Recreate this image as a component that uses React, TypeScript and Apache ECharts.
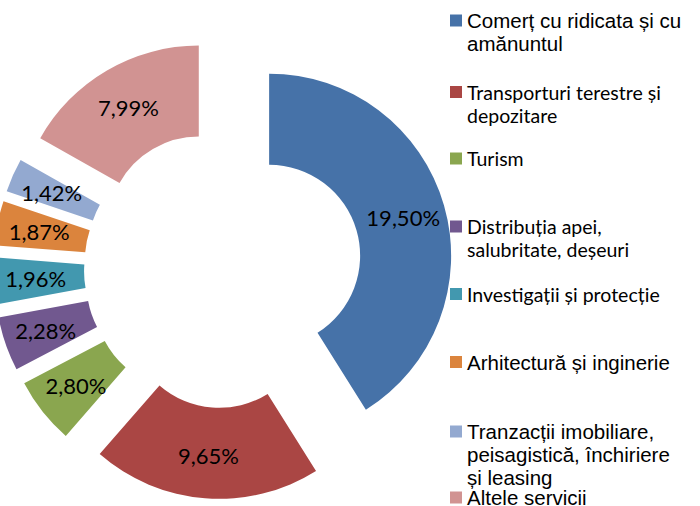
import React, { useEffect, useRef } from "react";
import * as echarts from "echarts";

const categories = [
  "Comerț cu ridicata și cu\namănuntul",
  "Transporturi terestre și\ndepozitare",
  "Turism",
  "Distribuția apei,\nsalubritate, deșeuri",
  "Investigații și protecție",
  "Arhitectură și inginerie",
  "Tranzacții imobiliare,\npeisagistică, închiriere\nși leasing",
  "Altele servicii",
];
const shares = [19.5, 9.65, 2.8, 2.28, 1.96, 1.87, 1.42, 7.99];
const colors = ["#4672A8", "#AA4644", "#8AA64F", "#71588F", "#4298AF", "#DB843D", "#93A9D0", "#D19392"];

// layout constants (legend icon centres, fonts)
const legendIconY = [20.5, 92, 158.5, 226.5, 294, 362, 431.5, 497.5];
const legendArialLike = [true, false, false, false, false, true, true, true];
const LH = 23;

export default function App() {
  const ref = useRef<HTMLDivElement>(null);
  useEffect(() => {
    const chart = echarts.init(ref.current!, null, { renderer: "svg" });
    const legends = categories.map((name, i) => {
      const lines = name.split("\n").length;
      const arial = legendArialLike[i];
      return {
        data: [name],
        orient: "vertical",
        left: 450,
        top: legendIconY[i] - ((2 * lines - 1) * LH) / 2,
        padding: 0,
        itemWidth: 12,
        itemHeight: 12,
        itemGap: 0,
        icon: "rect",
        selectedMode: false,
        formatter: (n: string) => "\n".repeat(lines - 1) + n,
        textStyle: {
          fontFamily: arial ? "Liberation Sans" : "Lato",
          fontSize: arial ? 20.5 : 19.5,
          lineHeight: LH,
          color: "#000",
        },
      };
    });
    chart.setOption({
      animation: false,
      color: colors,
      legend: legends,
      series: [
        {
          type: "pie",
          center: [223, 269],
          radius: [91, 182],
          startAngle: 90,
          clockwise: true,
          selectedMode: "multiple",
          selectedOffset: 48,
          emphasis: { disabled: true },
          label: {
            show: true,
            position: "inside",
            fontFamily: "Lato",
            fontSize: 22,
            color: "#000",
            formatter: (p: any) => p.value.toFixed(2).replace(".", ",") + "%",
          },
          labelLine: { show: false },
          data: categories.map((name, i) => ({ name, value: shares[i], selected: true })),
        },
      ],
    });
    return () => chart.dispose();
  }, []);
  return (
    <div
      ref={ref}
      style={{ position: "fixed", left: 0, top: 0, width: 700, height: 506, background: "#fff" }}
    />
  );
}
